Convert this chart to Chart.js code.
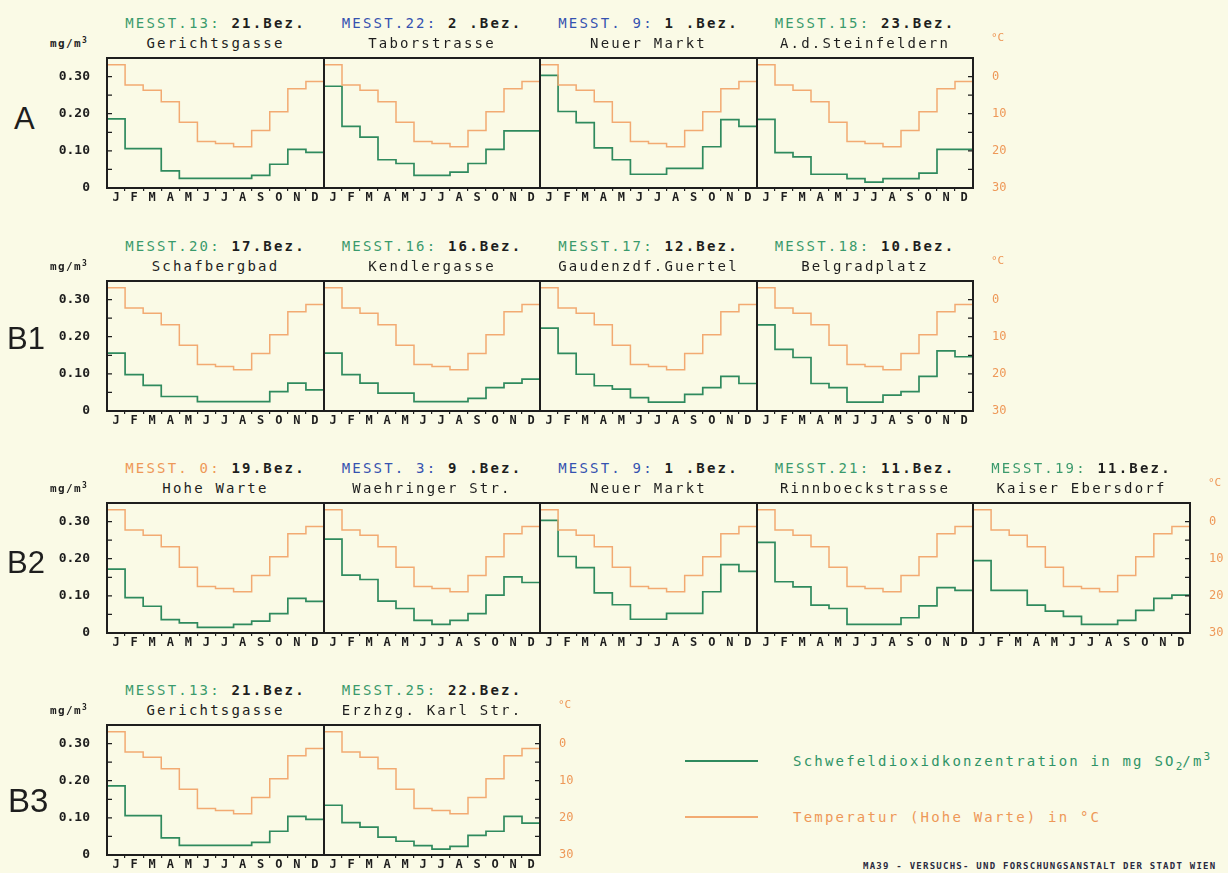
<!DOCTYPE html>
<html>
<head>
<meta charset="utf-8">
<script src="https://cdn.jsdelivr.net/npm/chart.js@4.4.1/dist/chart.umd.min.js"></script>
<style>
  html, body { margin: 0; padding: 0; }
  body {
    width: 1228px; height: 873px; position: relative; overflow: hidden;
    background: #fafae6; font-family: "DejaVu Sans Mono", monospace; color: #1e1e1e;
  }
  canvas { position: absolute; }
  .txt { position: absolute; white-space: pre; }
  .title { text-align: center; font-size: 14px; line-height: 16px; letter-spacing: 2.2px; }
  .unit { font-size: 11px; line-height: 14px; font-weight: bold; letter-spacing: 1.4px; }
  .unit sup { font-size: 8px; vertical-align: 4px; line-height: 0; }
  .rowlab { font-family: "Liberation Sans", Arial, sans-serif; line-height: 1; }
  .degc { font-size: 11px; line-height: 14px; color: #ee9858; }
  .legline { position: absolute; height: 0; width: 73px; border-top: 2px solid; }
  .legtxt { font-size: 14px; line-height: 16px; letter-spacing: 2.2px; }
  .legtxt sub, .legtxt sup { font-size: 11px; line-height: 0; letter-spacing: 0; }
  .footer { font-size: 9px; line-height: 12px; font-weight: bold; letter-spacing: 1.25px; color: #2a2a40; }
</style>
</head>
<body>
<script>
// Monatsmittel Messnetz Wien - SO2 in mg/m3, Temperatur Hohe Warte in Grad C
const MONTHS = ['J', 'F', 'M', 'A', 'M', 'J', 'J', 'A', 'S', 'O', 'N', 'D'];
const TEMP_HOHE_WARTE = [-3.2, 2.3, 3.7, 6.8, 12.3, 17.5, 18.0, 18.9, 14.5, 9.5, 3.3, 1.3];

const SO2_GERICHTSGASSE = [0.186, 0.106, 0.106, 0.046, 0.026, 0.026, 0.026, 0.026, 0.034, 0.064, 0.104, 0.096];
const SO2_TABORSTRASSE = [0.274, 0.166, 0.137, 0.076, 0.066, 0.034, 0.034, 0.043, 0.066, 0.104, 0.154, 0.154];
const SO2_NEUER_MARKT = [0.303, 0.206, 0.176, 0.108, 0.076, 0.037, 0.037, 0.053, 0.053, 0.111, 0.184, 0.166];
const SO2_STEINFELDERN = [0.185, 0.095, 0.084, 0.037, 0.037, 0.025, 0.016, 0.025, 0.025, 0.040, 0.104, 0.104];
const SO2_SCHAFBERGBAD = [0.156, 0.098, 0.069, 0.039, 0.039, 0.025, 0.025, 0.025, 0.025, 0.052, 0.075, 0.057];
const SO2_KENDLERGASSE = [0.156, 0.098, 0.075, 0.048, 0.048, 0.025, 0.025, 0.025, 0.034, 0.063, 0.075, 0.086];
const SO2_GAUDENZDORF = [0.223, 0.155, 0.099, 0.068, 0.059, 0.036, 0.024, 0.024, 0.045, 0.063, 0.093, 0.074];
const SO2_BELGRADPLATZ = [0.232, 0.166, 0.144, 0.074, 0.063, 0.024, 0.024, 0.043, 0.052, 0.093, 0.162, 0.146];
const SO2_HOHE_WARTE = [0.172, 0.095, 0.072, 0.036, 0.027, 0.015, 0.015, 0.023, 0.032, 0.052, 0.093, 0.085];
const SO2_WAEHRINGER = [0.253, 0.156, 0.144, 0.086, 0.066, 0.034, 0.023, 0.034, 0.052, 0.102, 0.151, 0.136];
const SO2_RINNBOECK = [0.244, 0.138, 0.124, 0.075, 0.066, 0.023, 0.023, 0.023, 0.041, 0.073, 0.122, 0.115];
const SO2_KAISER_EBERSDORF = [0.195, 0.115, 0.115, 0.075, 0.059, 0.045, 0.023, 0.023, 0.034, 0.061, 0.093, 0.102];
const SO2_ERZHZG_KARL = [0.134, 0.087, 0.075, 0.048, 0.037, 0.025, 0.016, 0.023, 0.053, 0.064, 0.104, 0.086];

const STATION_NO = ['MESST.13:', 'MESST.22:', 'MESST. 9:', 'MESST.15:', 'MESST.20:', 'MESST.16:', 'MESST.17:',
  'MESST.18:', 'MESST. 0:', 'MESST. 3:', 'MESST.21:', 'MESST.19:', 'MESST.25:'];
const STATION_BEZ = [' 21.Bez.', ' 2 .Bez.', ' 1 .Bez.', ' 23.Bez.', ' 17.Bez.', ' 16.Bez.', ' 12.Bez.',
  ' 10.Bez.', ' 19.Bez.', ' 9 .Bez.', ' 11.Bez.', ' 11.Bez.', ' 22.Bez.'];
const STATION_NAME = ['Gerichtsgasse', 'Taborstrasse', 'Neuer Markt', 'A.d.Steinfeldern', 'Schafbergbad',
  'Kendlergasse', 'Gaudenzdf.Guertel', 'Belgradplatz', 'Hohe Warte', 'Waehringer Str.', 'Rinnboeckstrasse',
  'Kaiser Ebersdorf', 'Erzhzg. Karl Str.'];
const STATION_TONE = ['green', 'blue', 'blue', 'green', 'green', 'green', 'green', 'green', 'orange', 'blue',
  'green', 'green', 'green'];
const STATION_SO2 = [SO2_GERICHTSGASSE, SO2_TABORSTRASSE, SO2_NEUER_MARKT, SO2_STEINFELDERN, SO2_SCHAFBERGBAD,
  SO2_KENDLERGASSE, SO2_GAUDENZDORF, SO2_BELGRADPLATZ, SO2_HOHE_WARTE, SO2_WAEHRINGER, SO2_RINNBOECK,
  SO2_KAISER_EBERSDORF, SO2_ERZHZG_KARL];

const ROW_LABELS = ['A', 'B1', 'B2', 'B3'];
const ROW_STATIONS = [[0, 1, 2, 3], [4, 5, 6, 7], [8, 9, 2, 10, 11], [0, 12]];
const SO2_TICKS = [0, 0.1, 0.2, 0.3];
const TEMP_TICKS = [0, 10, 20, 30];

// layout
const COL_X0 = 107, COL_W = 216.6;
const ROW_TOP = [58, 281, 503, 725];
const BOX_H = 130;
const AXIS_L = 70, AXIS_R = 50, AXIS_B = 22, PAD_T = 2;
const ROW_LABEL_POS = [[14, 60, 31], [7, 57, 31], [7, 59, 31], [8, 75, 33]]; // x, dy from box top, size

const TONES = { green: '#3a9a6c', blue: '#3552b0', orange: '#ee9858' };
const SO2_LINE = '#2f8a5e';
const TEMP_LINE = '#f2aa72';
const INK = '#1e1e1e';
const MONO = '"DejaVu Sans Mono", monospace';

// frame round the plot area plus the small inward ticks of the plotter
const plotterFrame = {
    id: 'plotterFrame',
    afterDraw(chart, args, opts) {
        const { ctx, chartArea: a, scales } = chart;
        ctx.save();
        ctx.strokeStyle = INK;
        ctx.lineWidth = 2;
        ctx.strokeRect(a.left, a.top, a.right - a.left, a.bottom - a.top);
        ctx.lineWidth = 1.2;
        ctx.beginPath();
        if (opts.left) {
            for (let v = 0.05; v < 0.33; v += 0.05) {
                const y = scales.y.getPixelForValue(v);
                ctx.moveTo(a.left, y);
                ctx.lineTo(a.left + 5, y);
            }
        }
        if (opts.right) {
            for (let t = 0; t < 30; t += 5) {
                const y = scales.y2.getPixelForValue(t);
                ctx.moveTo(a.right - 5, y);
                ctx.lineTo(a.right, y);
            }
        }
        ctx.stroke();
        ctx.restore();
    }
};

function steps(values) {
    // month i holds from x=i to x=i+1
    return values.concat(values[values.length - 1]).map((v, i) => ({ x: i, y: v }));
}

function noPad(sc) {
    sc.paddingTop = 0;
    sc.paddingBottom = 0;
    sc.paddingLeft = 0;
    sc.paddingRight = 0;
}

function addText(cls, left, top, html, extra) {
    const d = document.createElement('div');
    d.className = 'txt ' + cls;
    d.style.left = left + 'px';
    d.style.top = top + 'px';
    d.innerHTML = html;
    if (extra) Object.assign(d.style, extra);
    document.body.appendChild(d);
    return d;
}

function makePanel(s, left, right, top, first, last) {
    const cv = document.createElement('canvas');
    cv.width = right - left + AXIS_L + AXIS_R;
    cv.height = BOX_H + PAD_T + AXIS_B;
    cv.style.left = (left - AXIS_L) + 'px';
    cv.style.top = (top - PAD_T) + 'px';
    document.body.appendChild(cv);

    new Chart(cv, {
        type: 'line',
        data: {
            datasets: [
                {
                    label: 'Temperatur (Hohe Warte)',
                    data: steps(TEMP_HOHE_WARTE),
                    yAxisID: 'y2',
                    borderColor: TEMP_LINE,
                    borderWidth: 1.5,
                    stepped: true,
                    pointRadius: 0
                },
                {
                    label: 'SO2',
                    data: steps(STATION_SO2[s]),
                    yAxisID: 'y',
                    borderColor: SO2_LINE,
                    borderWidth: 1.7,
                    stepped: true,
                    pointRadius: 0
                }
            ]
        },
        options: {
            responsive: false,
            animation: false,
            events: [],
            layout: { autoPadding: false, padding: { top: PAD_T, left: 0, right: 0, bottom: 0 } },
            plugins: {
                legend: { display: false },
                tooltip: { enabled: false },
                plotterFrame: { left: first, right: last }
            },
            scales: {
                x: {
                    type: 'linear', min: 0, max: 12,
                    afterBuildTicks: sc => {
                        sc.ticks = [];
                        for (let i = 0; i <= 24; i++) sc.ticks.push({ value: i / 2 });
                    },
                    afterFit: sc => { sc.height = AXIS_B; noPad(sc); },
                    ticks: {
                        autoSkip: false, maxRotation: 0, padding: 0, color: INK,
                        font: { family: MONO, size: 12, weight: 'bold' },
                        callback: v => (v % 1 === 0.5 ? MONTHS[Math.floor(v)] : '')
                    },
                    grid: {
                        drawOnChartArea: false, tickLength: 3, lineWidth: 1.2,
                        color: c => (c.tick && c.tick.value % 1 === 0 && c.tick.value > 0 && c.tick.value < 12)
                            ? INK : 'rgba(0,0,0,0)'
                    },
                    border: { display: false }
                },
                y: {
                    position: 'left', min: 0, max: 0.35,
                    afterBuildTicks: sc => { sc.ticks = SO2_TICKS.map(v => ({ value: v })); },
                    afterFit: sc => { sc.width = AXIS_L; noPad(sc); },
                    ticks: {
                        display: first, padding: 17, color: INK,
                        font: { family: MONO, size: 13, weight: 'bold' },
                        callback: v => (v === 0 ? '0' : v.toFixed(2))
                    },
                    grid: { display: false, drawTicks: false },
                    border: { display: false }
                },
                y2: {
                    position: 'right', reverse: true, min: -5, max: 30,
                    afterBuildTicks: sc => { sc.ticks = TEMP_TICKS.map(v => ({ value: v })); },
                    afterFit: sc => { sc.width = AXIS_R; noPad(sc); },
                    ticks: {
                        display: last, padding: 19, color: TONES.orange,
                        font: { family: MONO, size: 12 }
                    },
                    grid: { display: false, drawTicks: false },
                    border: { display: false }
                }
            }
        },
        plugins: [plotterFrame]
    });
}

ROW_STATIONS.forEach((stations, r) => {
    const top = ROW_TOP[r];
    let rowRight = 0;
    stations.forEach((s, c) => {
        const left = Math.round(COL_X0 + c * COL_W);
        const right = Math.round(COL_X0 + (c + 1) * COL_W);
        rowRight = right;
        makePanel(s, left, right, top, c === 0, c === stations.length - 1);

        const w = { width: (right - left) + 'px' };
        addText('title', left, top - 43,
            `<span style="color:${TONES[STATION_TONE[s]]}">${STATION_NO[s]}</span><b>${STATION_BEZ[s]}</b>`, w);
        addText('title', left, top - 23, STATION_NAME[s], w);
    });

    const [lx, ldy, lsize] = ROW_LABEL_POS[r];
    addText('rowlab', lx, top + ldy - lsize * 0.5, ROW_LABELS[r], { fontSize: lsize + 'px' });
    addText('unit', 50, top - 21, 'mg/m<sup>3</sup>');
    addText('degc', rowRight + 18, top - 27, '°C');
});

// legend
const legend = [
    { y: 761, color: SO2_LINE, text: 'Schwefeldioxidkonzentration in mg SO<sub>2</sub>/m<sup>3</sup>', tone: '#2f9466' },
    { y: 817, color: TEMP_LINE, text: 'Temperatur (Hohe Warte) in °C', tone: TONES.orange }
];
legend.forEach(l => {
    const line = document.createElement('div');
    line.className = 'legline';
    line.style.left = '685px';
    line.style.top = (l.y - 1) + 'px';
    line.style.borderColor = l.color;
    document.body.appendChild(line);
    addText('legtxt', 793, l.y - 8, l.text, { color: l.tone });
});

addText('footer', 863, 860, 'MA39 - VERSUCHS- UND FORSCHUNGSANSTALT DER STADT WIEN');
</script>
</body>
</html>
